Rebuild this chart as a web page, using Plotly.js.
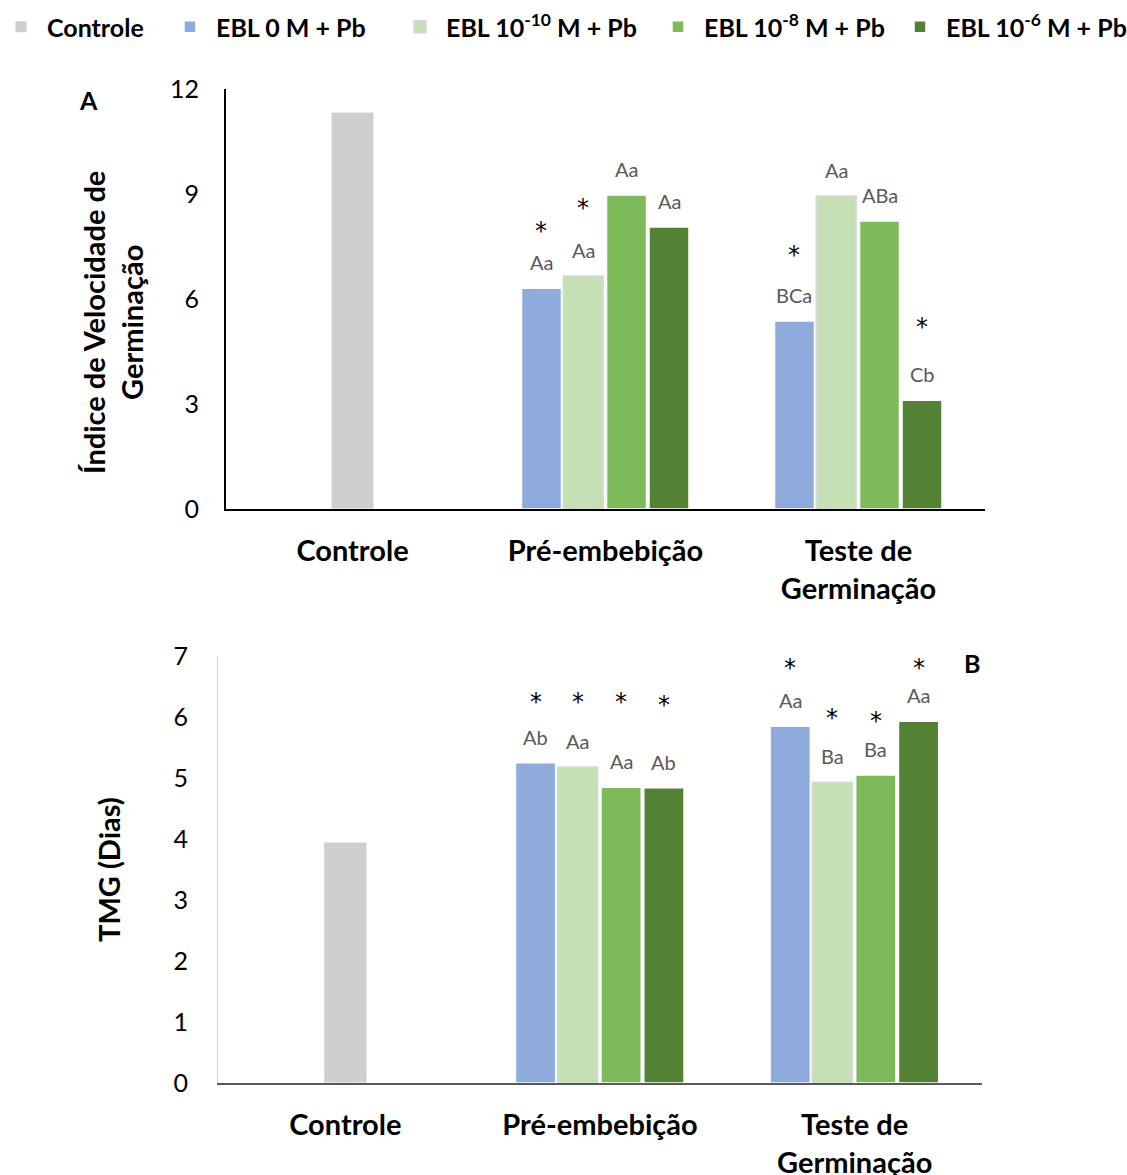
<!DOCTYPE html>
<html><head><meta charset="utf-8">
<script src="https://cdn.plot.ly/plotly-3.0.1.min.js"></script>
<style>body{margin:0;background:#fff}#chart{width:1127px;height:1175px}</style>
</head><body><div id="chart"></div>
<script>
// ---- data ----
const categories = ['Controle', 'Pré-embebição', 'Teste de<br>Germinação'];
const treatCats = ['Pré-embebição', 'Teste de<br>Germinação'];
const seriesNames = ['Controle', 'EBL 0 M + Pb', 'EBL 10<sup>-10</sup> M + Pb', 'EBL 10<sup>-8</sup> M + Pb', 'EBL 10<sup>-6</sup> M + Pb'];
const yTitleA = 'Índice de Velocidade de<br>Germinação';
const yTitleB = 'TMG (Dias)';

// Panel A: Índice de Velocidade de Germinação
const ivgControle = [11.34];
const ivgEbl0 = [6.31, 5.37];
const ivgEbl10 = [6.66, 8.94];
const ivgEbl8 = [8.97, 8.23];
const ivgEbl6 = [8.06, 3.11];
const ivgLet0 = ['Aa', 'BCa'];
const ivgLet10 = ['Aa', 'Aa'];
const ivgLet8 = ['Aa', 'ABa'];
const ivgLet6 = ['Aa', 'Cb'];
const ivgStar0 = [8.09, 7.4];
const ivgStar10 = [8.74, null];
const ivgStar8 = [null, null];
const ivgStar6 = [null, 5.34];

// Panel B: TMG (Dias)
const tmgControle = [3.95];
const tmgEbl0 = [5.25, 5.85];
const tmgEbl10 = [5.18, 4.93];
const tmgEbl8 = [4.85, 5.05];
const tmgEbl6 = [4.84, 5.93];
const tmgLet0 = ['Ab', 'Aa'];
const tmgLet10 = ['Aa', 'Ba'];
const tmgLet8 = ['Aa', 'Ba'];
const tmgLet6 = ['Ab', 'Aa'];
const tmgStar0 = [6.33, 6.89];
const tmgStar10 = [6.33, 6.07];
const tmgStar8 = [6.33, 6.02];
const tmgStar6 = [6.28, 6.89];

// ---- styles ----
const colors = ['#D0CECE', '#8FAADC', '#C5E0B4', '#7CBA5A', '#548235'];
const lineColors = ['#FFFFFF', '#FFFFFF', '#D9D9D9', '#FFFFFF', '#FFFFFF'];
const barW = 0.158;
const offsets = [-0.332, -0.167, 0.004, 0.172];
const ctrlW = 0.17;
const FONT = 'Lato, "Open Sans", sans-serif';
const legendNames = ['legend', 'legend2', 'legend3', 'legend4', 'legend5'];
const legendTextX = [47, 216, 446, 704, 946];

const traces = [];
const annotations = [];

function addPanel(xa, ya, ctrl, vals, lets, stars, showLegend) {
  traces.push({
    type: 'bar', x: ['Controle'], y: ctrl, name: seriesNames[0], legendgroup: 'g0', legend: legendNames[0],
    showlegend: showLegend, xaxis: xa, yaxis: ya, width: ctrlW, offset: -ctrlW / 2,
    marker: {color: colors[0], line: {color: lineColors[0], width: 1}}, hoverinfo: 'y'
  });
  vals.forEach((v, i) => {
    traces.push({
      type: 'bar', x: treatCats, y: v, name: seriesNames[i + 1], legendgroup: 'g' + (i + 1), legend: legendNames[i + 1],
      showlegend: showLegend, xaxis: xa, yaxis: ya, width: barW, offset: offsets[i],
      marker: {color: colors[i + 1], line: {color: lineColors[i + 1], width: 1.5}}, hoverinfo: 'y'
    });
    v.forEach((val, j) => {
      const xc = (j + 1) + offsets[i] + barW / 2;
      annotations.push({
        xref: xa, yref: ya, x: xc, y: val, text: lets[i][j], showarrow: false,
        yanchor: 'bottom', yshift: 12, font: {family: FONT, size: 20, color: '#595959'}
      });
      const s = stars[i][j];
      if (s !== null) {
        annotations.push({
          xref: xa, yref: ya, x: xc, y: s, text: '*', showarrow: false,
          yanchor: 'middle', yshift: -5, font: {family: '"DejaVu Sans", sans-serif', size: 24, color: '#000'}
        });
      }
    });
  });
}

addPanel('x', 'y', ivgControle, [ivgEbl0, ivgEbl10, ivgEbl8, ivgEbl6],
  [ivgLet0, ivgLet10, ivgLet8, ivgLet6], [ivgStar0, ivgStar10, ivgStar8, ivgStar6], true);
addPanel('x2', 'y2', tmgControle, [tmgEbl0, tmgEbl10, tmgEbl8, tmgEbl6],
  [tmgLet0, tmgLet10, tmgLet8, tmgLet6], [tmgStar0, tmgStar10, tmgStar8, tmgStar6], false);

const boldFont = {family: FONT, size: 25, color: '#000', weight: 'bold'};
annotations.push({xref: 'paper', yref: 'paper', x: 88 / 1127, y: 1 - 100 / 1175, xanchor: 'center', yanchor: 'middle',
  text: 'A', showarrow: false, font: boldFont});
annotations.push({xref: 'paper', yref: 'paper', x: 972 / 1127, y: 1 - 663 / 1175, xanchor: 'center', yanchor: 'middle',
  text: 'B', showarrow: false, font: boldFont});
const titleFont = {family: FONT, size: 29, color: '#000', weight: 'bold'};
annotations.push({xref: 'paper', yref: 'paper', x: 112 / 1127, y: 1 - 322 / 1175, xanchor: 'center', yanchor: 'middle',
  text: yTitleA, textangle: -90, showarrow: false, font: titleFont});
annotations.push({xref: 'paper', yref: 'paper', x: 108 / 1127, y: 1 - 870 / 1175, xanchor: 'center', yanchor: 'middle',
  text: yTitleB, textangle: -90, showarrow: false, font: titleFont});

const catFont = {family: FONT, size: 29, color: '#000', weight: 'bold'};
const tickFont = {family: FONT, size: 25, color: '#000'};

const layout = {
  width: 1127, height: 1175,
  margin: {l: 0, r: 0, t: 0, b: 0, autoexpand: false},
  paper_bgcolor: '#fff', plot_bgcolor: '#fff',
  barmode: 'overlay',
  showlegend: true,
  xaxis: {domain: [226 / 1127, 985 / 1127], anchor: 'y', type: 'category', categoryorder: 'array',
    categoryarray: categories, range: [-0.5, 2.5], showline: true, linecolor: '#000', linewidth: 2,
    ticks: '', tickfont: catFont, ticklabelstandoff: 15, automargin: false},
  yaxis: {domain: [1 - 509 / 1175, 1 - 89 / 1175], anchor: 'x', range: [0, 12], tickvals: [0, 3, 6, 9, 12],
    showline: true, linecolor: '#000', linewidth: 2, showgrid: false, zeroline: false, ticks: '',
    tickfont: tickFont, ticklabelstandoff: 20, automargin: false},
  xaxis2: {domain: [218 / 1127, 982 / 1127], anchor: 'y2', type: 'category', categoryorder: 'array',
    categoryarray: categories, range: [-0.5, 2.5], showline: true, linecolor: '#595959', linewidth: 2,
    ticks: '', tickfont: catFont, ticklabelstandoff: 15, automargin: false},
  yaxis2: {domain: [1 - 1083 / 1175, 1 - 656 / 1175], anchor: 'x2', range: [0, 7], dtick: 1,
    showline: true, linecolor: '#D9D9D9', linewidth: 1, showgrid: false, zeroline: false, ticks: '',
    tickfont: tickFont, ticklabelstandoff: 24, automargin: false},
  annotations: annotations
};
legendNames.forEach((ln, i) => {
  layout[ln] = {orientation: 'h', x: (legendTextX[i] - 52) / 1127, y: 1 - 27 / 1175, xanchor: 'left', yanchor: 'middle',
    font: {family: FONT, size: 25, color: '#000', weight: 'bold'}, itemwidth: 42, bgcolor: 'rgba(0,0,0,0)'};
});

Plotly.newPlot('chart', traces, layout, {displayModeBar: false, staticPlot: true});
</script></body></html>
